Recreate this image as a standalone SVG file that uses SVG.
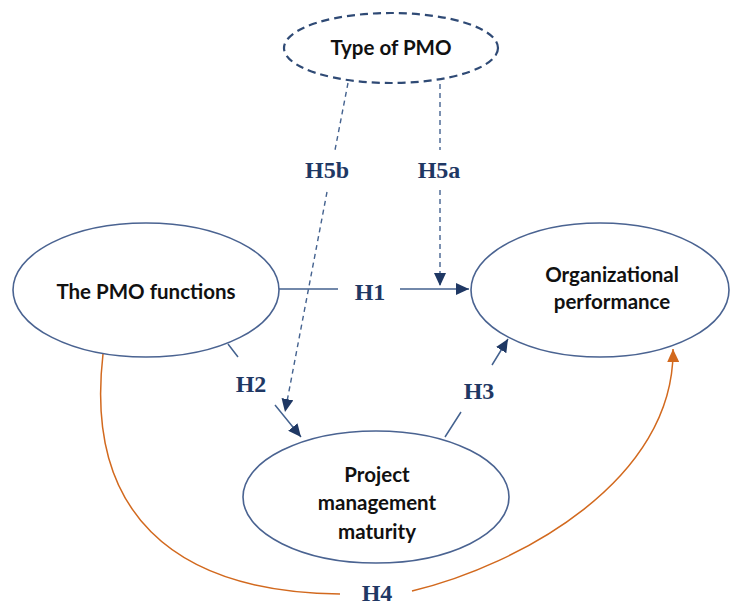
<svg xmlns="http://www.w3.org/2000/svg" width="730" height="607" viewBox="0 0 730 607">
<style>
.node{fill:#fff;stroke:#4A6391;stroke-width:1.6}
.dashnode{fill:#fff;stroke:#2F4A75;stroke-width:2.2;stroke-dasharray:8 5}
.t{font-family:Lato,"Liberation Sans",sans-serif;font-weight:bold;font-size:20.5px;fill:#111;text-anchor:middle}
.h{font-family:"Liberation Serif","DejaVu Serif",serif;font-weight:bold;font-size:24px;fill:#1F3864;text-anchor:middle}
.blue{fill:none;stroke:#44628F;stroke-width:1.5}
.dash{fill:none;stroke:#44628F;stroke-width:1.4;stroke-dasharray:5 4}
.orange{fill:none;stroke:#D2691E;stroke-width:1.5}
</style>
<defs>
<marker id="ab" markerWidth="14" markerHeight="12" refX="13" refY="6" orient="auto" markerUnits="userSpaceOnUse">
<path d="M0,0 L13,6 L0,12 Z" fill="#1F3864"/>
</marker>
<marker id="ao" markerWidth="14" markerHeight="12" refX="13" refY="6" orient="auto" markerUnits="userSpaceOnUse">
<path d="M0,0 L13,6 L0,12 Z" fill="#D2691E"/>
</marker>
</defs>
<g id="connectors">
<path class="blue" d="M279,289 H338 M400,289 H469" marker-end="url(#ab)"/>
<path class="dash" d="M440,84 V150 M440,190 V286" marker-end="url(#ab)"/>
<path class="dash" d="M348,83 L335,150 M327,192 L285,412" marker-end="url(#ab)"/>
<path class="blue" d="M228,344 L238,357 M275,405 L301,437" marker-end="url(#ab)"/>
<path class="blue" d="M445,437 L461,412 M492,365 L508,339" marker-end="url(#ab)"/>
<path class="orange" d="M103,354 C85,510 170,592 340,594"/>
<path class="orange" d="M412,591 C520,565 675,480 673,349" marker-end="url(#ao)"/>
<text class="h" x="327" y="178">H5b</text>
<text class="h" x="439" y="178">H5a</text>
<text class="h" x="370" y="300">H1</text>
<text class="h" x="251" y="392">H2</text>
<text class="h" x="479" y="399">H3</text>
<text class="h" x="377" y="601">H4</text>
</g>
<g id="type-pmo">
<ellipse class="dashnode" cx="391" cy="48" rx="107" ry="35"/>
<text class="t" x="391" y="55">Type of PMO</text>
</g>
<g id="pmo-functions">
<ellipse class="node" cx="146" cy="290" rx="133" ry="67"/>
<text class="t" x="146" y="299">The PMO functions</text>
</g>
<g id="org-performance">
<ellipse class="node" cx="600" cy="290" rx="129" ry="67"/>
<text class="t" x="612" y="282">Organizational</text>
<text class="t" x="612" y="309">performance</text>
</g>
<g id="pm-maturity">
<ellipse class="node" cx="376" cy="497" rx="133" ry="66"/>
<text class="t" x="377" y="482">Project</text>
<text class="t" x="377" y="510">management</text>
<text class="t" x="377" y="539">maturity</text>
</g>
</svg>
